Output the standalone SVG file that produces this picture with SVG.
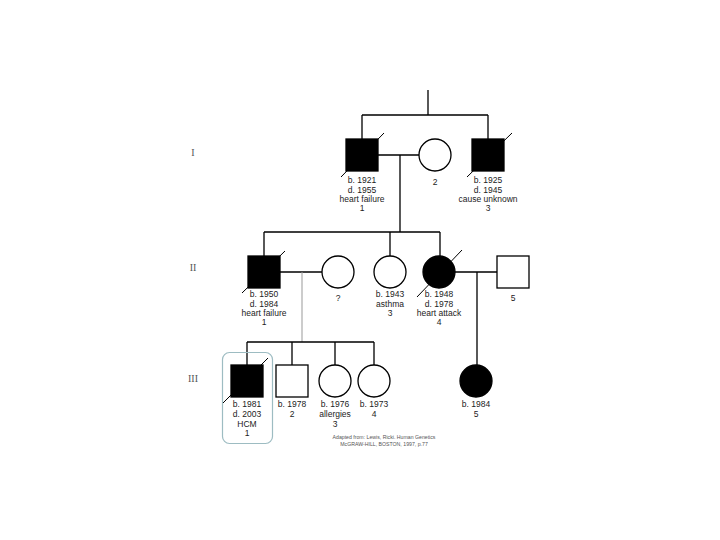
<svg xmlns="http://www.w3.org/2000/svg" width="720" height="540" viewBox="0 0 720 540">
<style>
.ln{stroke:#000;stroke-width:1.3;fill:none}
.lt{stroke:#999;stroke-width:1;fill:none}
.un{fill:#fff;stroke:#000;stroke-width:1.3}
.af{fill:#000;stroke:#000;stroke-width:1.3}
.sl{stroke:#000;stroke-width:1}
.t{font-family:"Liberation Sans",Arial,sans-serif;font-size:8.5px;fill:#222;text-anchor:middle}
.g{font-family:"Liberation Serif","Times New Roman",serif;font-size:10px;fill:#555;text-anchor:middle}
.c{font-family:"Liberation Sans",Arial,sans-serif;font-size:5.2px;fill:#555;text-anchor:middle}
</style>
<rect width="720" height="540" fill="#fff"/>
<g id="generations">
<text class="g" x="193" y="156">I</text>
<text class="g" x="193" y="271">II</text>
<text class="g" x="193" y="382">III</text>
</g>
<g id="connectors">
<path class="ln" d="M428 90V115M362 115H488M362 115V139M488 115V139"/>
<path class="ln" d="M378 155H419M400 155V232"/>
<path class="ln" d="M264 232H440M264 232V256M390 232V256M440 232V256"/>
<path class="ln" d="M280 272H322"/>
<path class="lt" d="M302 272V342"/>
<path class="ln" d="M455 272H497M477 272V365"/>
<path class="ln" d="M247 342H374M247 342V365M292 342V365M335 342V365M374 342V365"/>
</g>
<g id="I-1">
<rect class="af" x="346" y="139" width="32" height="32"/>
<line class="sl" x1="341" y1="177" x2="384" y2="133"/>
<text class="t" x="362" y="183">b. 1921</text>
<text class="t" x="362" y="193">d. 1955</text>
<text class="t" x="362" y="202">heart failure</text>
<text class="t" x="362" y="211">1</text>
</g>
<g id="I-2">
<circle class="un" cx="435" cy="155" r="16"/>
<text class="t" x="435" y="185">2</text>
</g>
<g id="I-3">
<rect class="af" x="472" y="139" width="32" height="32"/>
<line class="sl" x1="467" y1="177" x2="512" y2="133"/>
<text class="t" x="488" y="183">b. 1925</text>
<text class="t" x="488" y="193">d. 1945</text>
<text class="t" x="488" y="202">cause unknown</text>
<text class="t" x="488" y="211">3</text>
</g>
<g id="II-1">
<rect class="af" x="248" y="256" width="32" height="32"/>
<line class="sl" x1="242" y1="293" x2="285" y2="251"/>
<text class="t" x="264" y="297">b. 1950</text>
<text class="t" x="264" y="307">d. 1984</text>
<text class="t" x="264" y="316">heart failure</text>
<text class="t" x="264" y="325">1</text>
</g>
<g id="II-2">
<circle class="un" cx="338" cy="272" r="16"/>
<text class="t" x="338" y="301">?</text>
</g>
<g id="II-3">
<circle class="un" cx="390" cy="272" r="16"/>
<text class="t" x="390" y="297">b. 1943</text>
<text class="t" x="390" y="307">asthma</text>
<text class="t" x="390" y="316">3</text>
</g>
<g id="II-4">
<circle class="af" cx="439" cy="272" r="16"/>
<line class="sl" x1="417" y1="297" x2="462" y2="250"/>
<text class="t" x="439" y="297">b. 1948</text>
<text class="t" x="439" y="307">d. 1978</text>
<text class="t" x="439" y="316">heart attack</text>
<text class="t" x="439" y="325">4</text>
</g>
<g id="II-5">
<rect class="un" x="497" y="256" width="32" height="32"/>
<text class="t" x="513" y="301">5</text>
</g>
<g id="III-1">
<rect x="222.5" y="352.5" width="50" height="91" rx="7" fill="none" stroke="#9dbcc2" stroke-width="1.2"/>
<rect class="af" x="231" y="365" width="32" height="32"/>
<line class="sl" x1="223" y1="403" x2="268" y2="358"/>
<text class="t" x="247" y="407">b. 1981</text>
<text class="t" x="247" y="417">d. 2003</text>
<text class="t" x="247" y="427">HCM</text>
<text class="t" x="247" y="436">1</text>
</g>
<g id="III-2">
<rect class="un" x="276" y="365" width="32" height="32"/>
<text class="t" x="292" y="407">b. 1978</text>
<text class="t" x="292" y="417">2</text>
</g>
<g id="III-3">
<circle class="un" cx="335" cy="381" r="16"/>
<text class="t" x="335" y="407">b. 1976</text>
<text class="t" x="335" y="417">allergies</text>
<text class="t" x="335" y="427">3</text>
</g>
<g id="III-4">
<circle class="un" cx="374" cy="381" r="16"/>
<text class="t" x="374" y="407">b. 1973</text>
<text class="t" x="374" y="417">4</text>
</g>
<g id="III-5">
<circle class="af" cx="476" cy="381" r="16"/>
<text class="t" x="476" y="407">b. 1984</text>
<text class="t" x="476" y="417">5</text>
</g>
<g id="citation">
<text class="c" x="384" y="439">Adapted from: Lewis, Ricki. Human Genetics</text>
<text class="c" x="384" y="446">McGRAW-HILL, BOSTON, 1997, p.77</text>
</g>
</svg>
